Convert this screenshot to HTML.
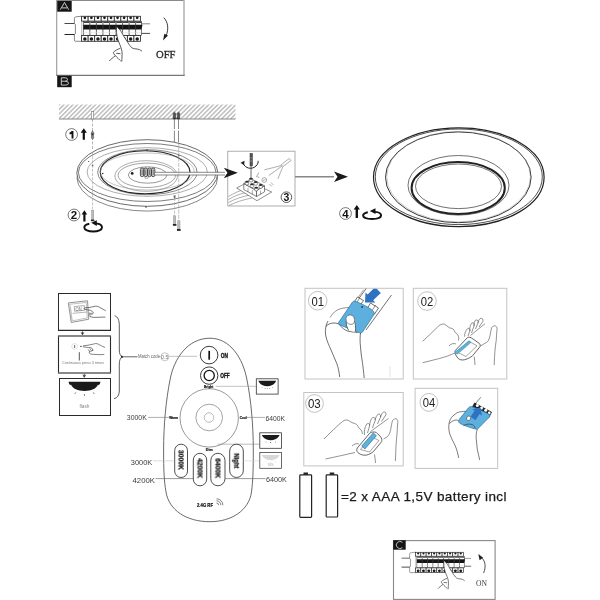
<!DOCTYPE html>
<html><head><meta charset="utf-8">
<style>
html,body{margin:0;padding:0;background:#fff;width:600px;height:600px;overflow:hidden}
svg{display:block}
text{filter:url(#gs)}
text{font-family:"Liberation Sans",sans-serif}
.serif{font-family:"Liberation Serif",serif}
</style></head><body>
<svg width="600" height="600" viewBox="0 0 600 600">
<defs>
<filter id="gs" x="-10%" y="-10%" width="120%" height="120%"><feColorMatrix type="saturate" values="0"/></filter>
<pattern id="hatch" patternUnits="userSpaceOnUse" width="3.2" height="5" patternTransform="rotate(45)">
<line x1="0.8" y1="0" x2="0.8" y2="5" stroke="#777" stroke-width="0.8"/>
</pattern>
<g id="breaker">
 <line x1="64.5" y1="23.5" x2="75" y2="23.5" stroke="#333" stroke-width="0.9"/>
 <line x1="64.5" y1="34.5" x2="75" y2="34.5" stroke="#222" stroke-width="1"/>
 <line x1="140" y1="23.8" x2="150" y2="23.8" stroke="#666" stroke-width="0.8"/>
 <line x1="140" y1="33.4" x2="150" y2="33.4" stroke="#333" stroke-width="0.9"/>
 <path d="M81.8,16.2 L75.6,16.9 Q74.4,17.1 74.4,18.5 L74.4,23.8 L75.4,24.5 L75.4,33.8 L74.4,34.6 L74.4,40.2 Q74.4,41.3 75.8,41.3 L81.8,41.3 Z" fill="#fff" stroke="#555" stroke-width="0.7"/>
 <rect x="81.6" y="21.1" width="59" height="14.4" fill="#f4f4f4" stroke="none"/>
 <rect x="83.3" y="21.3" width="58.2" height="14" fill="#fff" stroke="#444" stroke-width="0.7"/>
 <g fill="#fff" stroke="#2a2a2a" stroke-width="0.85"><rect x="81.60" y="16.3" width="6.54" height="4.8"/><rect x="81.60" y="35.5" width="6.54" height="5.8"/><rect x="88.14" y="16.3" width="6.54" height="4.8"/><rect x="88.14" y="35.5" width="6.54" height="5.8"/><rect x="94.68" y="16.3" width="6.54" height="4.8"/><rect x="94.68" y="35.5" width="6.54" height="5.8"/><rect x="101.22" y="16.3" width="6.54" height="4.8"/><rect x="101.22" y="35.5" width="6.54" height="5.8"/><rect x="107.76" y="16.3" width="6.54" height="4.8"/><rect x="107.76" y="35.5" width="6.54" height="5.8"/><rect x="114.30" y="16.3" width="6.54" height="4.8"/><rect x="114.30" y="35.5" width="6.54" height="5.8"/><rect x="120.84" y="16.3" width="6.54" height="4.8"/><rect x="120.84" y="35.5" width="6.54" height="5.8"/><rect x="127.38" y="16.3" width="6.54" height="4.8"/><rect x="127.38" y="35.5" width="6.54" height="5.8"/><rect x="133.92" y="16.3" width="6.54" height="4.8"/><rect x="133.92" y="35.5" width="6.54" height="5.8"/></g>
 <g fill="#1a1a1a"><circle cx="84.87" cy="17.8" r="1.35"/><circle cx="84.87" cy="39.1" r="1.75"/><circle cx="91.41" cy="17.8" r="1.35"/><circle cx="91.41" cy="39.1" r="1.75"/><circle cx="97.95" cy="17.8" r="1.35"/><circle cx="97.95" cy="39.1" r="1.75"/><circle cx="104.49" cy="17.8" r="1.35"/><circle cx="104.49" cy="39.1" r="1.75"/><circle cx="111.03" cy="17.8" r="1.35"/><circle cx="111.03" cy="39.1" r="1.75"/><circle cx="117.57" cy="17.8" r="1.35"/><circle cx="117.57" cy="39.1" r="1.75"/><circle cx="124.11" cy="17.8" r="1.35"/><circle cx="124.11" cy="39.1" r="1.75"/><circle cx="130.65" cy="17.8" r="1.35"/><circle cx="130.65" cy="39.1" r="1.75"/><circle cx="137.19" cy="17.8" r="1.35"/><circle cx="137.19" cy="39.1" r="1.75"/></g>
 <g stroke="#2a2a2a" stroke-width="0.9"><line x1="83.80" y1="22.5" x2="89.34" y2="22.5"/><line x1="90.34" y1="22.5" x2="95.88" y2="22.5"/><line x1="96.88" y1="22.5" x2="102.42" y2="22.5"/><line x1="103.42" y1="22.5" x2="108.96" y2="22.5"/><line x1="109.96" y1="22.5" x2="115.50" y2="22.5"/><line x1="116.50" y1="22.5" x2="122.04" y2="22.5"/><line x1="123.04" y1="22.5" x2="128.58" y2="22.5"/><line x1="129.58" y1="22.5" x2="135.12" y2="22.5"/><line x1="136.12" y1="22.5" x2="141.66" y2="22.5"/></g>
 <g stroke="#444" stroke-width="0.8"><line x1="89.84" y1="21.3" x2="89.84" y2="35.3"/><line x1="96.38" y1="21.3" x2="96.38" y2="35.3"/><line x1="102.92" y1="21.3" x2="102.92" y2="35.3"/><line x1="109.46" y1="21.3" x2="109.46" y2="35.3"/><line x1="116.00" y1="21.3" x2="116.00" y2="35.3"/><line x1="122.54" y1="21.3" x2="122.54" y2="35.3"/><line x1="129.08" y1="21.3" x2="129.08" y2="35.3"/><line x1="135.62" y1="21.3" x2="135.62" y2="35.3"/></g>
 <path d="M83.3,24.8 L142.6,24.8 L141.3,29.6 L83.3,29.6 Z" fill="#151515"/>
 <g stroke="#555" stroke-width="0.6"><line x1="89.84" y1="25.2" x2="89.84" y2="29.2"/><line x1="96.38" y1="25.2" x2="96.38" y2="29.2"/><line x1="102.92" y1="25.2" x2="102.92" y2="29.2"/><line x1="109.46" y1="25.2" x2="109.46" y2="29.2"/><line x1="116.00" y1="25.2" x2="116.00" y2="29.2"/><line x1="122.54" y1="25.2" x2="122.54" y2="29.2"/><line x1="129.08" y1="25.2" x2="129.08" y2="29.2"/><line x1="135.62" y1="25.2" x2="135.62" y2="29.2"/></g>
 <line x1="83.3" y1="32.6" x2="141" y2="32.6" stroke="#ddd" stroke-width="0.5"/>
</g>
<g id="hand">
<path d="M116.7,27 L116.3,32.5 L118,40 L120.4,46.7 L122,51.7 L121.8,61.7 L140,62 L142,51.2 L138.3,49.2 L134,48.7 L130.8,46.7 L127.5,41.7 L124,36.7 L121.7,31.7 L118,28 Z" fill="#fff" stroke="none"/>
<path d="M116.7,27 C116,30 116.5,35 118,40 C119.5,44 121.5,48 122,51.7 C122.3,55 121.8,59 121.8,61.7" fill="none" stroke="#333" stroke-width="0.8"/>
<path d="M118,28 C120,29 122,33 124,36.7 C126,39.5 128.5,44 130.8,46.7 C132,48.3 134,48.8 136,48.9 C138.5,49 140.5,50 142,51.2" fill="none" stroke="#333" stroke-width="0.8"/>
<path d="M120.4,48.3 C118,49 115,50.5 113.3,52.5 C113.5,54 116,56.5 118,58.3 C119,59.5 120.3,60.5 120.8,61" fill="none" stroke="#333" stroke-width="0.8"/>
<path d="M116.2,53.3 L120.4,53.7 M115.4,55.8 C113,57.5 110.5,59.5 109.2,61" fill="none" stroke="#333" stroke-width="0.8"/>
</g>
</defs>

<!-- ============ A ============ -->
<path d="M56.7,0.5 L184,0.5" stroke="#888" stroke-width="1.1" fill="none"/>
<path d="M184,0 L184,75.4" stroke="#b0b0b0" stroke-width="1.5" fill="none"/>
<path d="M56.7,0 L56.7,75.4" stroke="#999" stroke-width="1.1" fill="none"/>
<path d="M56.2,75.4 L184.7,75.4" stroke="#777" stroke-width="1.2" fill="none"/>
<rect x="57.2" y="1" width="14.5" height="10.7" fill="#151515"/>
<path d="M60.3,9.7 L64.5,2.5 L68.7,9.7 M62,7.9 L67,7.9" fill="none" stroke="#ddd" stroke-width="0.9"/>
<use href="#breaker"/>
<use href="#hand"/>
<!-- curved arrow OFF -->
<path d="M163.8,17.6 C168,22 169,29 166,36" fill="none" stroke="#222" stroke-width="0.9"/>
<path d="M163,40.5 L164.3,33.8 L168,35.6 Z" fill="#222"/>
<text x="156" y="58" font-size="10.6" fill="#2a2a2a" stroke="#2a2a2a" stroke-width="0.3" class="serif" style="font-family:'Liberation Serif',serif">OFF</text>

<!-- ============ B ============ -->
<rect x="57.2" y="75.7" width="14.5" height="11.5" fill="#151515"/>
<path d="M61.3,85.1 L61.3,77.8 L65.3,77.8 Q67.5,77.8 67.5,79.5 Q67.5,81.2 65.3,81.2 L61.3,81.2 M65.3,81.2 Q68.5,81.2 68.5,83.2 Q68.5,85.1 65.3,85.1 L61.3,85.1" fill="none" stroke="#ddd" stroke-width="0.9"/>

<!-- ceiling -->
<rect x="59" y="104.5" width="176.5" height="14.5" fill="url(#hatch)"/>
<line x1="59" y1="119" x2="235.5" y2="119" stroke="#888" stroke-width="1"/>

<!-- anchor left -->
<rect x="91.3" y="111.5" width="2.4" height="7.5" fill="#fff" stroke="#777" stroke-width="0.6"/>
<line x1="92.5" y1="119" x2="92.5" y2="150" stroke="#888" stroke-width="0.6" stroke-dasharray="3,1.5"/>
<path d="M92.5,130.7 L91.1,133.2 L91.5,135 L91.3,138 L92.5,139.5 L93.7,138 L93.5,135 L93.9,133.2 Z" fill="#888" stroke="#444" stroke-width="0.5"/>
<path d="M91.4,133.5 L93.6,133.5 L93.3,135.2 L91.7,135.2 Z" fill="#333"/>
<!-- circle 1 + arrow -->
<circle cx="71.6" cy="134.5" r="5.9" fill="#fff" stroke="#555" stroke-width="0.8"/>
<path d="M72.5,130.9 L72.5,138.6 M72.6,131.4 C71.8,132.6 70.8,133.3 69.6,133.7" fill="none" stroke="#111" stroke-width="1.9"/>
<path d="M83.8,128.2 L80.7,132.8 L82.7,132.8 L82.7,139.8 L84.9,139.8 L84.9,132.8 L86.9,132.8 Z" fill="#111"/>

<!-- anchors right -->
<path d="M173.2,119 L173.2,113.2 Q174.4,111.2 175.6,113.2 L175.6,119 Z" fill="#555" stroke="#333" stroke-width="0.5"/>
<path d="M177.3,119 L177.3,113.2 Q178.5,111.2 179.7,113.2 L179.7,119 Z" fill="#555" stroke="#333" stroke-width="0.5"/>
<line x1="173.5" y1="118.3" x2="179.5" y2="118.3" stroke="#222" stroke-width="0.8"/>
<line x1="174.4" y1="119" x2="174.4" y2="142" stroke="#555" stroke-width="0.7" stroke-dasharray="10,1.5,30"/>
<line x1="178.5" y1="119" x2="178.5" y2="142" stroke="#555" stroke-width="0.7" stroke-dasharray="10,1.5,30"/>

<!-- lamp 1 -->
<g fill="none" stroke="#444" stroke-width="0.7">
 <ellipse cx="147.3" cy="177.8" rx="70.3" ry="33.3" stroke="#555"/>
 <ellipse cx="147.3" cy="173" rx="70.5" ry="33.3" fill="#fff" stroke="#444" stroke-width="0.8"/>
 <ellipse cx="147.2" cy="172.5" rx="68.8" ry="29" stroke="#444" stroke-width="0.7"/>
 <ellipse cx="147.2" cy="172" rx="60.1" ry="24.3" stroke="#777" stroke-width="0.6"/>
 <ellipse cx="147.4" cy="172.2" rx="49.7" ry="22.5" stroke="#555" stroke-width="0.7"/>
 <ellipse cx="145.1" cy="172.2" rx="44.9" ry="21.5" stroke="#222" stroke-width="1.1"/>
 <ellipse cx="147.3" cy="171.5" rx="47" ry="18.5" stroke="#888" stroke-width="0.5"/>
 <ellipse cx="146.2" cy="176" rx="31.3" ry="15.3" stroke="#777" stroke-width="0.6"/>
 <ellipse cx="146.8" cy="175.3" rx="28.7" ry="12.2" stroke="#666" stroke-width="0.6"/>
 <ellipse cx="147.6" cy="175" rx="19.3" ry="8.2" stroke="#555" stroke-width="0.6"/>
</g>
<!-- connector in lamp center -->
<g fill="#d0d0d0" stroke="#222" stroke-width="0.75">
 <rect x="140.4" y="168" width="3.4" height="8.6" rx="1.5"/>
 <rect x="144.1" y="168" width="3.4" height="8.6" rx="1.5"/>
 <rect x="147.8" y="168" width="3.4" height="8.6" rx="1.5"/>
 <rect x="151.5" y="168" width="3.4" height="8.6" rx="1.5"/>
</g>
<g stroke="#333" stroke-width="0.6">
 <line x1="142.1" y1="169.5" x2="142.1" y2="175"/><line x1="145.8" y1="169.5" x2="145.8" y2="175"/>
 <line x1="149.5" y1="169.5" x2="149.5" y2="175"/><line x1="153.2" y1="169.5" x2="153.2" y2="175"/>
</g>
<path d="M145,176.6 L145,178.3 L148,178.3 L148,176.6" fill="none" stroke="#666" stroke-width="0.5"/>
<circle cx="132.2" cy="173.4" r="1.4" fill="#222"/>
<!-- dots on lamp -->
<circle cx="147" cy="150" r="0.8" fill="#333"/>
<circle cx="102.7" cy="173.5" r="0.8" fill="#333"/>
<circle cx="88.7" cy="161.5" r="0.6" fill="#333"/>
<circle cx="146" cy="207" r="0.8" fill="#333"/>
<!-- arrow from lamp to box 3 -->
<rect x="155" y="172.3" width="70" height="2.7" fill="#fff"/>
<path d="M155,172.3 L225,172.3 M155,175 L225,175" stroke="#555" stroke-width="0.7"/>
<!-- dashed line & screws -->
<line x1="92.6" y1="152" x2="92.6" y2="210.3" stroke="#999" stroke-width="0.6" stroke-dasharray="3,1.2"/>
<rect x="91.5" y="210.3" width="2.3" height="9.7" fill="#bbb" stroke="#888" stroke-width="0.4"/>
<rect x="90.9" y="219.6" width="3.4" height="1.6" fill="#222"/>
<line x1="178.75" y1="142" x2="178.75" y2="220.8" stroke="#999" stroke-width="0.6" stroke-dasharray="4,1.2"/>
<line x1="174.6" y1="198" x2="174.6" y2="215.8" stroke="#999" stroke-width="0.6" stroke-dasharray="3,1.2"/>
<path d="M173.4,195.6 L175.8,195.6 L175.2,198.2 L174,198.2 Z" fill="#666"/>
<rect x="173.4" y="215.8" width="2.4" height="8.4" fill="#bbb" stroke="#888" stroke-width="0.4"/>
<rect x="172.9" y="224" width="3.5" height="1.8" fill="#222"/>
<rect x="177.6" y="220.8" width="2.4" height="8.4" fill="#bbb" stroke="#888" stroke-width="0.4"/>
<rect x="177" y="229" width="3.6" height="1.9" fill="#222"/>
<circle cx="92.6" cy="165.5" r="0.9" fill="#777"/>
<circle cx="178.75" cy="155.5" r="0.9" fill="#777"/>

<!-- circle 2 + arrow + rotate -->
<circle cx="74" cy="215" r="5.9" fill="#fff" stroke="#555" stroke-width="0.8"/>
<text x="74" y="219.3" font-size="11.5" fill="#111" text-anchor="middle" font-weight="bold">2</text>
<path d="M84.4,210.3 L81.6,214.5 L83.3,214.5 L83.3,221.5 L85.5,221.5 L85.5,214.5 L87.2,214.5 Z" fill="#111"/>
<path d="M89.3,223.7 C86,224.3 84.3,225.8 84.3,227.5 C84.3,229.8 88.3,231.5 93.2,231.5 C98.2,231.5 102,229.8 102,227.5 C102,225.2 99,223.7 96,223.4" fill="none" stroke="#111" stroke-width="1.9"/>
<path d="M91.2,222.8 L96.8,220.2 L96.8,226 Z" fill="#111"/>

<!-- box 3 -->
<rect x="227.8" y="151.2" width="67.2" height="54.8" fill="#fff" stroke="#999" stroke-width="0.8"/>
<line x1="295" y1="176.7" x2="334" y2="176.7" stroke="#888" stroke-width="1.6"/>
<path d="M348,176.7 L334,171.5 L337.5,176.7 L334,182 Z" fill="#1a1a1a"/>
<circle cx="286.4" cy="197.2" r="5.3" fill="#fff" stroke="#333" stroke-width="0.8"/>
<text x="286.4" y="201" font-size="10.5" fill="#111" text-anchor="middle" font-weight="bold">3</text>
<!-- box 3 contents -->
<g fill="none" stroke="#777" stroke-width="0.6">
 <path d="M228.5,196.5 C234,193 240,190.5 246,189"/>
 <path d="M228.5,199.5 C234,196 241,193.5 248,192"/>
 <path d="M228.5,202.5 C235,199 242,196.5 250,195"/>
 <path d="M229,205.5 C236,202 244,199.5 252,198"/>
</g>
<path d="M236.7,188 L249,181.5 L271.7,192 L257,200.7 Z" fill="#fff" stroke="#444" stroke-width="0.6"/>
<g fill="#fff" stroke="#333" stroke-width="0.6">
 <path d="M243.8,183.5 L243.8,189.5 L256.5,196.5 L256.5,190.5 Z"/>
 <path d="M256.5,190.5 L256.5,196.5 L264.5,191.8 L264.5,185.8 Z"/>
 <path d="M243.8,183.5 L251.5,179 L264.5,185.8 L256.5,190.5 Z"/>
</g>
<g stroke="#555" stroke-width="0.5">
 <line x1="248" y1="187.8" x2="248" y2="192"/><line x1="252.3" y1="190.2" x2="252.3" y2="194.3"/>
 <line x1="260.5" y1="190.6" x2="260.5" y2="194.5"/>
</g>
<g fill="#fff" stroke="#333" stroke-width="0.5">
 <path d="M249.3,178.7 L249.3,181 A1.7,1 0 0 0 252.7,181 L252.7,178.7"/>
 <path d="M245.3,181.7 L245.3,184 A1.7,1 0 0 0 248.7,184 L248.7,181.7"/>
 <path d="M254,182 L254,184.3 A1.7,1 0 0 0 257.4,184.3 L257.4,182"/>
 <path d="M250.3,184.3 L250.3,186.6 A1.7,1 0 0 0 253.7,186.6 L253.7,184.3"/>
 <path d="M259,185 L259,187.3 A1.7,1 0 0 0 262.4,187.3 L262.4,185"/>
 <path d="M254.6,187.7 L254.6,190 A1.7,1 0 0 0 258,190 L258,187.7"/>
</g>
<g fill="#2a2a2a">
 <ellipse cx="251" cy="178.7" rx="1.8" ry="1"/>
 <ellipse cx="247" cy="181.7" rx="1.8" ry="1"/>
 <ellipse cx="255.7" cy="182" rx="1.8" ry="1"/>
 <ellipse cx="252" cy="184.3" rx="1.8" ry="1"/>
 <ellipse cx="260.7" cy="185" rx="1.8" ry="1"/>
 <ellipse cx="256.3" cy="187.7" rx="1.8" ry="1"/>
</g>
<rect x="250" y="153.4" width="2.5" height="12.5" fill="#555" stroke="#333" stroke-width="0.5"/>
<line x1="250.2" y1="158" x2="252.3" y2="158" stroke="#ccc" stroke-width="0.5"/>
<line x1="250.2" y1="161" x2="252.3" y2="161" stroke="#ccc" stroke-width="0.5"/>
<line x1="251" y1="165.9" x2="251" y2="178" stroke="#444" stroke-width="0.8"/>
<path d="M243,163.2 C245,168.5 252,170 256,166 C258,164 258.5,162 258,160.8" fill="none" stroke="#222" stroke-width="1"/>
<path d="M240.5,162.8 L244.5,160.8 L244.2,165.2 Z" fill="#222"/>
<g fill="none" stroke="#777" stroke-width="0.6">
 <path d="M289.2,158.5 L291,160.5 L283,166.5 L281.3,164.7 Z" fill="#fff"/>
 <path d="M281.5,165.5 C276,167 270,168.5 264.3,169.8"/>
 <path d="M282,166 C278,169 273,172.5 268.8,175.5"/>
 <path d="M283,166.5 C281,170.5 279.5,175 277.9,178.9"/>
 <path d="M259,172.5 L256.5,176.5 L259.5,177.5"/>
 <circle cx="264.3" cy="180" r="2.4"/>
 <path d="M263,180.5 L265.6,179.5"/>
 <path d="M269.5,184 L272,186.5 M271,182.5 L273.5,185"/>
</g>
<path d="M237.8,172.7 L223.8,167.7 L227.5,172.7 L223.8,178.2 Z" fill="#1a1a1a"/>
<!-- big lamp -->
<g fill="none" stroke="#222">
 <ellipse cx="458.8" cy="177.2" rx="85.3" ry="49.4" stroke-width="1.2"/>
 <ellipse cx="458.8" cy="176.8" rx="83.5" ry="47.8" stroke-width="0.8"/>
 <ellipse cx="458.3" cy="177.3" rx="72.8" ry="45.4" stroke-width="1" stroke="#333"/>
 <ellipse cx="458.6" cy="176.6" rx="71.8" ry="45.2" stroke-width="0.4" stroke="#888"/>
 <ellipse cx="458.5" cy="185.3" rx="50.5" ry="29.8" stroke-width="0.7" stroke="#333"/>
 <ellipse cx="458.2" cy="188" rx="46.6" ry="26" stroke-width="2"/>
 <ellipse cx="458.5" cy="186.3" rx="43" ry="22.3" stroke-width="0.7" stroke="#333"/>
</g>
<!-- 4 + arrow + rotate -->
<circle cx="345.5" cy="213.5" r="5.9" fill="#fff" stroke="#555" stroke-width="0.8"/>
<text x="345.5" y="217.8" font-size="11.5" fill="#111" text-anchor="middle" font-weight="bold">4</text>
<path d="M356.8,205 L353.7,209.6 L355.6,209.6 L355.6,218 L358,218 L358,209.6 L359.9,209.6 Z" fill="#111"/>
<path d="M367.8,212.2 C364.8,212.8 363.1,214 363.1,215.6 C363.1,217.6 367,219 372.1,219 C377.2,219 381.1,217.6 381.1,215.6 C381.1,213.4 378,212.1 375,211.9" fill="none" stroke="#111" stroke-width="1.9"/>
<path d="M369.8,210.9 L375.5,208.3 L375.5,214 Z" fill="#111"/>

<!-- ============ lower left boxes ============ -->
<rect x="58.5" y="293.5" width="52" height="37" fill="#fff" stroke="#2a2a2a" stroke-width="1"/>
<rect x="58.5" y="336" width="52" height="37" fill="#fff" stroke="#2a2a2a" stroke-width="1.1"/>
<rect x="59.5" y="378.5" width="51" height="37" fill="#fff" stroke="#2a2a2a" stroke-width="1"/>
<line x1="58.5" y1="330.4" x2="110.5" y2="330.4" stroke="#2a2a2a" stroke-width="1.1"/>
<line x1="58.5" y1="335.9" x2="110.5" y2="335.9" stroke="#888" stroke-width="1.7"/>
<line x1="58.5" y1="372.9" x2="110.5" y2="372.9" stroke="#888" stroke-width="1.6"/>
<path d="M82.5,331.5 L82.5,334 M81.2,332.3 L82.5,334.8 L83.8,332.3" stroke="#222" stroke-width="0.8" fill="none"/>
<path d="M84.3,374 L84.3,376.5 M83,374.8 L84.3,377.3 L85.6,374.8" stroke="#222" stroke-width="0.8" fill="none"/>
<!-- box1 switch + hand -->
<g fill="none" stroke-linejoin="round">
 <path d="M68.3,302.9 L87.5,300.8 L88.75,319.2 L71.25,322.5 Z" stroke="#666" stroke-width="0.7"/>
 <path d="M69.7,304.3 L86.2,302.4 L87.3,317.9 L72.3,320.9 Z" stroke="#999" stroke-width="0.6"/>
 <path d="M74.3,306.5 L84.3,305.6 L84.6,310.3 L74.6,311.2 Z" stroke="#777" stroke-width="0.6"/>
 <path d="M72.6,313.3 L87.5,312" stroke="#888" stroke-width="0.6"/>
 <path d="M70.6,306 L71.8,320.5" stroke="#bbb" stroke-width="0.6"/>
</g>
<text x="75.6" y="310.5" font-size="4.6" fill="#666" transform="rotate(-5 79 308.5)" textLength="6" lengthAdjust="spacingAndGlyphs">ON</text>
<path d="M83.7,308.9 L84.6,307.9 L89.2,307.5 L95.8,306.2 C97,306.1 98.2,306.5 99.2,307.1 C101.3,308.3 103.5,309.6 105.8,310.8" fill="none" stroke="#333" stroke-width="0.65"/>
<path d="M84.5,309.4 L88.3,310 L90.8,310.4 L93.3,312.4 L92.5,314.2 L90,313.8 M89.6,312.6 L90,316.6 L93.3,317.4 L105.4,317.1" fill="none" stroke="#333" stroke-width="0.65"/>
<path d="M90.8,313 L92,313.3" stroke="#555" stroke-width="0.5"/>
<!-- box2 -->
<circle cx="74.6" cy="346.4" r="2.9" fill="none" stroke="#b5c9d0" stroke-width="0.5"/>
<line x1="74.6" y1="345" x2="74.6" y2="348" stroke="#777" stroke-width="1.1"/>
<rect x="80.2" y="345.9" width="1.4" height="1.1" fill="#444"/>
<g fill="none" stroke="#333" stroke-width="0.6">
 <path d="M82.8,345.9 L88,345.2 L93,344.2 C95,343.5 96.5,343.3 98,344 C100,345 102.5,346.5 105,347.5"/>
 <path d="M83,346.8 L88.5,347.5 L90.6,347.5 L92.2,348.5 L92.8,350 L91.5,351 L89.5,351.3"/>
 <path d="M88.2,349.5 L89.5,351.3 L89.2,353 L91,354.2 L100,354.7 L104.3,354.4"/>
 <path d="M90,348.3 L90.5,349.8 M91.5,350.8 L93.5,350.2"/>
</g>
<line x1="79.3" y1="352.2" x2="79.3" y2="360.5" stroke="#444" stroke-width="0.9"/>
<text x="62" y="364.4" font-size="4" fill="#777" textLength="41.8" lengthAdjust="spacingAndGlyphs">Continuous press 3 times</text>
<!-- box3 lamp -->
<path d="M68.5,381.8 L100.5,381.8 L99.8,384 L98.7,385.2 L98,384.6 C96.5,389 91,391 84.6,391 C78,391 72.5,389 71,384.6 L70.3,385.2 L69.2,384 Z" fill="#1a1a1a"/>
<g stroke="#333" stroke-width="0.6">
 <line x1="74.5" y1="393.6" x2="76.2" y2="392.6"/>
 <line x1="84.4" y1="394" x2="84.4" y2="396"/>
 <line x1="92.9" y1="392.6" x2="94.6" y2="393.6"/>
</g>
<text x="79.5" y="407.6" font-size="4.8" fill="#888" textLength="10" lengthAdjust="spacingAndGlyphs">flash</text>
<!-- brace -->
<path d="M114.7,315.7 C118,317 119.3,320 119.3,326 L119.3,350 C119.3,354 120.5,356 122.5,356.8 C120.5,357.6 119.3,360 119.3,364 L119.3,391 C119.3,395 117.5,398 114,398.7" fill="none" stroke="#333" stroke-width="0.8"/>
<circle cx="122" cy="356.8" r="1.1" fill="#222"/>
<line x1="122" y1="356.8" x2="137.5" y2="356.8" stroke="#555" stroke-width="0.9"/>
<text x="138" y="358.4" font-size="4.6" fill="#666" textLength="22" lengthAdjust="spacingAndGlyphs">Match code</text>
<circle cx="164.8" cy="356.8" r="4" fill="#fff" stroke="#888" stroke-width="0.5"/>
<text x="164.7" y="358.6" font-size="5.2" fill="#777" text-anchor="middle">0.5</text>

<!-- ============ remote ============ -->
<path d="M210,338.2 C230,338.2 243,358 247,380 C251,400 253.3,425 253.3,450 C253.3,470 253,480 251.5,492 C249,510 232,521.7 210,521.7 C186,521.7 169,510 166,492 C164,480 163.6,470 163.6,450 C163.6,425 166,400 170,380 C174,358 188,338.2 210,338.2 Z" fill="#fff" stroke="#444" stroke-width="0.8"/>
<line x1="169" y1="356.3" x2="197" y2="356.3" stroke="#999" stroke-width="0.6"/>
<circle cx="209.1" cy="355.1" r="8.8" fill="#fff" stroke="#222" stroke-width="0.9"/>
<line x1="209.2" y1="350.8" x2="209.2" y2="359.7" stroke="#111" stroke-width="1.7"/>
<text x="220.8" y="357.8" font-size="7" font-weight="bold" fill="#111" stroke="#111" stroke-width="0.35" textLength="7.2" lengthAdjust="spacingAndGlyphs">ON</text>
<circle cx="209.2" cy="375.6" r="8.7" fill="#fff" stroke="#222" stroke-width="0.9"/>
<circle cx="209.2" cy="375.5" r="5.1" fill="none" stroke="#111" stroke-width="1.3"/>
<text x="220.3" y="378" font-size="7" font-weight="bold" fill="#111" stroke="#111" stroke-width="0.35" textLength="9.4" lengthAdjust="spacingAndGlyphs">OFF</text>
<text x="204" y="387.6" font-size="3.6" font-weight="bold" fill="#111" stroke="#111" stroke-width="0.2" textLength="9.3" lengthAdjust="spacingAndGlyphs">Bright</text>
<line x1="215.8" y1="386.3" x2="256.3" y2="386.3" stroke="#999" stroke-width="0.6"/>
<!-- wheel -->
<circle cx="209.2" cy="417.9" r="29.2" fill="none" stroke="#555" stroke-width="0.6"/>
<circle cx="209.2" cy="417.5" r="13.3" fill="none" stroke="#666" stroke-width="0.6"/>
<circle cx="209" cy="417.5" r="4.75" fill="none" stroke="#777" stroke-width="0.5"/>
<text x="169.2" y="418.9" font-size="3.6" font-weight="bold" fill="#111" stroke="#111" stroke-width="0.2" textLength="8.8" lengthAdjust="spacingAndGlyphs">Warm</text>
<text x="239.7" y="418.9" font-size="3.6" font-weight="bold" fill="#111" stroke="#111" stroke-width="0.2" textLength="7" lengthAdjust="spacingAndGlyphs">Cool</text>
<text x="209.2" y="451" font-size="3.6" font-weight="bold" fill="#111" stroke="#111" stroke-width="0.2" text-anchor="middle">Dim</text>
<line x1="148" y1="417.4" x2="169" y2="417.4" stroke="#777" stroke-width="0.6"/>
<line x1="246.8" y1="417.4" x2="265" y2="417.4" stroke="#777" stroke-width="0.6"/>
<line x1="217.7" y1="444.2" x2="259.8" y2="444.2" stroke="#777" stroke-width="0.5"/>
<!-- buttons -->
<g fill="#fff" stroke="#222" stroke-width="0.8">
 <rect x="174.7" y="444.2" width="12.8" height="33.3" rx="6.4"/>
 <rect x="193.3" y="453.3" width="13.4" height="32.5" rx="6.7"/>
 <rect x="210.8" y="453.3" width="14.2" height="32.5" rx="7.1"/>
 <rect x="229.7" y="444.2" width="13.6" height="33.3" rx="6.8"/>
</g>
<g font-size="7" font-weight="bold" fill="#111" stroke="#111" stroke-width="0.25">
 <text transform="translate(178.6,460) rotate(90)" text-anchor="middle" textLength="20" lengthAdjust="spacingAndGlyphs">3000K</text>
 <text transform="translate(197.6,468.3) rotate(90)" text-anchor="middle" textLength="20" lengthAdjust="spacingAndGlyphs">4200K</text>
 <text transform="translate(215.5,468.3) rotate(90)" text-anchor="middle" textLength="20" lengthAdjust="spacingAndGlyphs">6400K</text>
 <text transform="translate(234.2,460.8) rotate(90)" text-anchor="middle" textLength="15" lengthAdjust="spacingAndGlyphs">Night</text>
</g>
<text x="197" y="507.3" font-size="4.6" font-weight="bold" fill="#111" stroke="#111" stroke-width="0.2" textLength="16" lengthAdjust="spacingAndGlyphs">2.4G RF</text>
<g fill="none" stroke="#333" stroke-width="0.6">
 <path d="M216.5,503 A2.2,2.2 0 0 1 218.7,505.2"/>
 <path d="M216.5,500.8 A4.4,4.4 0 0 1 220.9,505.2"/>
 <path d="M216.5,498.8 A6.4,6.4 0 0 1 222.9,505.2"/>
</g>
<!-- labels left/right -->
<g font-size="7.6" fill="#3a3a3a">
 <text x="126.8" y="420.2" textLength="20" lengthAdjust="spacingAndGlyphs">3000K</text>
 <text x="130.8" y="465" textLength="21.5" lengthAdjust="spacingAndGlyphs">3000K</text>
 <text x="132.5" y="483.3" textLength="22.5" lengthAdjust="spacingAndGlyphs">4200K</text>
 <text x="265.4" y="420.8" textLength="19.5" lengthAdjust="spacingAndGlyphs">6400K</text>
 <text x="265.9" y="482.3" textLength="21" lengthAdjust="spacingAndGlyphs">6400K</text>
</g>
<line x1="153" y1="460.8" x2="174.7" y2="460.8" stroke="#bbb" stroke-width="0.5"/>
<line x1="155.5" y1="478.6" x2="193.3" y2="478.6" stroke="#555" stroke-width="0.6"/>
<line x1="225" y1="478.6" x2="265.5" y2="478.6" stroke="#555" stroke-width="0.6"/>
<line x1="243.3" y1="460.8" x2="259.8" y2="460.8" stroke="#ccc" stroke-width="0.5"/>
<!-- icon boxes -->
<rect x="256.3" y="378.8" width="21.8" height="15.3" fill="#fff" stroke="#333" stroke-width="0.8"/>
<path d="M258.3,380.8 L276.2,380.8 L275.2,382.5 C273.5,385 270.5,386.2 267.2,386.2 C264,386.2 261,385 259.3,382.5 Z" fill="#1a1a1a"/>
<g fill="#444"><circle cx="262" cy="387.6" r="0.45"/><circle cx="265" cy="388.3" r="0.45"/><circle cx="267.2" cy="388.5" r="0.45"/><circle cx="269.5" cy="388.3" r="0.45"/><circle cx="272.5" cy="387.6" r="0.45"/></g>
<rect x="259.8" y="432.8" width="21.8" height="15.5" fill="#fff" stroke="#333" stroke-width="0.8"/>
<path d="M261.8,435 L279.6,435 L278.6,436.8 C277,439 274,440.3 270.7,440.3 C267.5,440.3 264.5,439 262.8,436.8 Z" fill="#1a1a1a"/>
<g fill="#444"><circle cx="266" cy="442" r="0.45"/><circle cx="270.7" cy="442.6" r="0.5"/><circle cx="275.4" cy="442" r="0.45"/></g>
<rect x="259.8" y="452.5" width="21.8" height="15.8" fill="#fff" stroke="#444" stroke-width="0.8"/>
<path d="M261.8,455 L279.6,455 L278.6,456.8 C277,459 274,460.3 270.7,460.3 C267.5,460.3 264.5,459 262.8,456.8 Z" fill="#d8d8d8"/>
<g fill="#bbb"><circle cx="266" cy="461.8" r="0.4"/><circle cx="270.7" cy="462.3" r="0.4"/><circle cx="275.4" cy="461.8" r="0.4"/></g>
<text x="270.7" y="466.3" font-size="3" fill="#999" text-anchor="middle">10%</text>

<!-- ============ battery panels ============ -->
<g fill="#fff" stroke="#c4c4c4" stroke-width="1">
 <rect x="305" y="288.3" width="98.2" height="90.7"/>
 <rect x="413.3" y="288.3" width="93.5" height="90.7"/>
 <rect x="303.8" y="392.5" width="99.4" height="73.4"/>
 <rect x="415.1" y="388.3" width="82.6" height="80.1"/>
</g>
<g fill="#fff" stroke="#999" stroke-width="0.6">
 <circle cx="317.7" cy="300.7" r="9.3"/>
 <circle cx="427" cy="301" r="9.3"/>
 <circle cx="314.5" cy="403.5" r="8.9"/>
 <circle cx="428.9" cy="402.4" r="8.9"/>
</g>
<g font-size="12.6" fill="#222" text-anchor="middle">
 <text x="317.8" y="305.5" textLength="12.5" lengthAdjust="spacingAndGlyphs">01</text>
 <text x="427" y="305.5" textLength="12.5" lengthAdjust="spacingAndGlyphs">02</text>
 <text x="314.3" y="407.8" textLength="12.8" lengthAdjust="spacingAndGlyphs">03</text>
 <text x="428.9" y="406.6" textLength="12.5" lengthAdjust="spacingAndGlyphs">04</text>
</g>
<!-- panel 01 content -->
<g fill="none" stroke="#333" stroke-width="0.7">
 <path d="M366.2,288.6 L354,305"/>
 <path d="M363.8,289.5 L358,297.5" stroke="#555" stroke-width="0.5"/>
 <path d="M391.5,295 L366,330"/>
 <path d="M357.5,297 L363.5,300.5 L360.5,305 L354.5,301.5 Z" fill="#fff" stroke="#333" stroke-width="0.7"/>
 <path d="M370.5,303 L378.5,308 L374.5,314 L366.8,309.2 Z" fill="#fff" stroke="#333" stroke-width="0.7"/>
 <path d="M375.5,305 L371.5,311.5 M359.5,298 L356.5,303" stroke="#444" stroke-width="0.6"/>
 <path d="M330,317.5 C332,314.5 334,312 335.8,311 C338,309.5 340.5,308.5 342.8,308.2 C345,307.8 347.5,307.5 349.3,307.6" stroke="#444" stroke-width="0.6"/>
 <path d="M328,321 C326,324.5 325,329 325.5,334 C326,338 327.5,342 329.5,346.5 C331.7,352 334.5,357.5 336.7,363.3 C338.2,367.5 339.2,372 339.7,377"/>
 <path d="M326,326.5 C328,324 331,323 334,323 C336.5,323 338,323.5 339.2,324.5"/>
 <path d="M355,301.2 C360,303 365,305.5 368.5,307.6 C371.5,309.5 374.5,311.5 374.3,314 L362.5,332 C361.5,333.2 360,333.2 358.5,332.5 L340,325 C338.5,324.3 338,323.5 338.6,322.5 L352.5,302 C353.2,301.2 354,301 355,301.2 Z" fill="#5db0dd" stroke="#2d6f98" stroke-width="0.7"/>
 <path d="M339.5,325 C342,327.5 344.5,330 347.5,331 C351,332 355,332 357.5,332.5"/>
 <path d="M360.5,333 C360,337 360,340 360.2,343.3 C360.5,347 360.8,351 361.3,355 C362,360 363,365 364.2,378"/>
 <path d="M346.2,319 L354.5,319.5 C355.6,323 355.8,327 355.4,331.8 L349,330.8 C347,328 346,324 346.2,319 Z" fill="#fff" stroke="none"/>
 <path d="M346.3,321 C346,324 346.5,327 348.7,330.5 M354.5,321 C355.5,324 355.8,327.5 355.4,331.5"/>
 <path d="M346,318.5 C346.5,315.5 348.5,315 350.5,315 C353,315.2 354.3,317 354.4,319.5 C354.6,322 354,324 352,324.3 C349.5,324.6 347.3,323.5 346.5,322 Z" fill="#fff" stroke="#444" stroke-width="0.6"/>
</g>
<circle cx="362.1" cy="307" r="0.9" fill="#1a3a5a"/>
<clipPath id="p1clip"><rect x="305" y="288.8" width="98" height="90"/></clipPath>
<path clip-path="url(#p1clip)" d="M375.2,287.1 L367.6,294.5 L365.5,292.4 L365.0,302.6 L375.3,302.4 L373.2,300.3 L380.8,292.9 Z" fill="#2f72c2"/>
<line x1="390" y1="366" x2="390" y2="377" stroke="#ddd" stroke-width="0.8"/>
<!-- panel 02 / 03 drawing -->
<g id="p2">
<g fill="none" stroke="#4a4a4a" stroke-width="0.6">
 <path d="M422.7,341.3 C428,336.5 433,331.5 437.5,327 C439.5,325 442,323.5 444.5,324.2 C446.5,325 447.5,327 449.5,327.8 C451.5,328.3 453,328.5 454,330 C455,331.5 454.5,332.5 456.5,333.5 C458.5,335 459,337.5 458.5,340.5"/>
 <path d="M422.7,362.7 C433,360 446,357.5 455,353"/>
 <path d="M449,346 C451,343.5 454,343 456,344"/>
 <path d="M455,350.8 L467.5,337.5 C469,336.8 471,337.5 472,338.3 L479.2,343.3 C480.3,344.3 480.5,345.8 480,346.7 L472.5,355.8 C469,358.5 465,360 462.5,360 C460,360 458,358.8 457,357 C455.5,355 454.8,352.5 455,350.8 Z" fill="#fff" stroke="#555" stroke-width="0.9"/>
 <path d="M458,352.5 L468.5,341 L477,345.8 L466,356.5 Z" stroke="#666"/>
 <path d="M464.6,336.7 C464.5,333.5 465.5,330.5 467.9,328.3 C469.5,328 470.3,329.3 469.8,331 L468,336"/>
 <path d="M469.8,331 C469.5,327.5 470.3,324.5 472,322.9 C473.8,322.3 474.6,323.8 474,326 L471.5,333"/>
 <path d="M474,326 C474,323 474.5,321 475.8,320 C477.5,319.5 478.5,320.8 478,323 L475.5,329"/>
 <path d="M478,323 C478.5,320.5 479.3,318.8 480.8,318.3 C482.5,318 483.5,319.5 482.8,321.5 L479,327"/>
 <path d="M470.4,335.5 L485,323.7"/>
 <path d="M491.7,327.5 C493,326.3 494.3,325.5 495.4,325.8 C496.8,326.5 497.2,328 497,329.2 C496.7,333 496.4,336.5 496.25,340 C495.8,343.5 495.3,347 495,350 C494.6,355 494.3,360 494.2,365"/>
 <path d="M491.7,327.5 C491,330 490.5,333 490,335.8 C489.5,337.8 489,339.5 488.3,340.8 C487.3,342 486.2,342.8 485,343.3 C483.5,344.3 482,345 480.8,345.8"/>
 <path d="M474.2,356.7 C474.6,359.5 474.9,362 475,365"/>
</g>
<path d="M455.4,351.8 L468.6,341.3 C469.5,340.8 470.5,341.5 470.8,342.5 L457.6,353.9 C456.6,354.2 455.5,353.3 455.4,351.8 Z" fill="#5cb4dd" stroke="#2f7aa8" stroke-width="0.5"/>
</g>
<!-- panel 03 -->
<g fill="none" stroke="#4a4a4a" stroke-width="0.6">
 <path d="M324,439 C331,432 337,426 342.5,421.5 C344.5,420 346.5,419.5 348.5,420.5 C350.5,421.5 351.5,422.5 353,423 C355,423.5 356.5,424 357.5,425.5 C358.5,427 358.5,428 360,429 C361.5,430 362.5,432 362.3,434"/>
 <path d="M325.5,459 C335,457 346,454.5 355,452.5"/>
 <path d="M352,446 C354,444 357,443 359,444"/>
 <path d="M357.8,452.5 C356.5,451 356.5,449.5 357.3,448 L369.7,433.2 C371.5,431.8 374,431.8 376.1,432.3 L380.7,436.9 C381.8,438.5 382,440 381.7,441.5 L373.4,451.6 C370.5,454 367,455.5 364.2,455.2 C361.5,455 359.5,454 357.8,452.5 Z" fill="#fff" stroke="#555" stroke-width="0.9"/>
 <path d="M360.5,449.5 L371,436.5 L379,440.5 L369.5,452 Z" stroke="#666"/>
 <path d="M364.5,435 C364,431 364.8,427 366.7,424 C368.3,422.8 369.8,423.8 369.6,425.8 L367.5,433"/>
 <path d="M369.6,425.8 C369.8,422 370.8,419 372.6,417.6 C374.4,417 375.6,418.3 375.2,420.3 L372.5,428"/>
 <path d="M375.2,420.3 C375.6,417.5 376.6,415.3 378.2,414.2 C380,413.8 381,415 380.6,417 L377.5,424"/>
 <path d="M380.6,417 C381.2,414.5 382.3,412.5 383.8,412 C385.6,411.7 386.5,413 385.8,415 L381.5,421.5"/>
 <path d="M370.5,431.5 L388.5,418.5"/>
 <path d="M392.5,420.5 C393.8,419.3 395,418.5 396.2,418.8 C397.6,419.5 398,421 397.8,422.2 C397.5,426 397.2,430 397,434 C396.6,438 396.2,442 396,446 C395.7,451 395.5,456 395.4,461"/>
 <path d="M392.5,420.5 C391.8,423 391.2,426.5 390.7,429.5 C390.2,432 389.5,434 388.5,435.5 C387,437 385.5,438 383.5,439"/>
 <path d="M374.5,454.5 C375,457.5 375.3,460 375.5,463"/>
</g>
<path d="M364.9,448.9 L376.4,435.7 L373.2,432.9 L361.7,446.1 Z" fill="#5cb4dd" stroke="#2a5f85" stroke-width="0.6"/>
<!-- panel 04 -->
<g fill="none" stroke="#333" stroke-width="0.65">
 <path d="M480.8,397.3 L475,404"/>
 <path d="M474.6,403 L491.6,412.3 L488.5,417.5 L471.8,408 Z" fill="#222" stroke="#222" stroke-width="0.8"/>
 <circle cx="477.3" cy="405.6" r="1.5" fill="#fff" stroke="none"/>
 <circle cx="481.5" cy="408" r="1.5" fill="#fff" stroke="none"/>
 <circle cx="485.7" cy="410.3" r="1.5" fill="#fff" stroke="none"/>
 <circle cx="489.2" cy="413" r="1.4" fill="#fff" stroke="none"/>
 <path d="M455.2,414.2 C452,416 450.5,418.5 449.5,421.5 C448.5,425 448.5,429 449.5,433 C451,438 453.5,442 455.2,445.7 C457,450 458,454 458.7,458"/>
 <path d="M455.2,414.2 C457,412.5 459,411.8 461,411.8 C463,411.5 464.5,411.3 466,411.3"/>
 <path d="M449.5,423.5 C451.5,421.5 454,420 456.3,420 C458,420.3 459,421 459.5,422"/>
 <path d="M471.5,406.6 C476,408 484,411.5 489,414.2 C490,415 490,416 489.5,417 L477.3,429.3 C474,429 470,427.5 466,426 L460,423.5 C458.5,422.5 458.5,420.5 459.5,419 L468.5,407.8 C469.3,406.9 470.4,406.5 471.5,406.6 Z" fill="#5db0dd" stroke="#2d6f98" stroke-width="0.7"/>
 <path d="M463.3,425.8 C465,424.8 466.5,424.2 468,424.1 C470,424 471.5,424.3 472.7,424.7 C474,425.5 474.8,426.8 475,428.2"/>
 <path d="M477.3,429.3 C476.3,432 476,435 476.2,438.7 C476.5,442 477,446 477.3,449.2 C478,453 479,456.5 479.7,460"/>
 <ellipse cx="468.6" cy="418.3" rx="2" ry="2.3" fill="#fff" stroke="#444" stroke-width="0.6" transform="rotate(30 468.6 418.3)"/>
</g>
<path d="M475.5,420.2 L479.6,414.1 L481.9,415.7 L480.5,407.5 L472.4,409.2 L474.6,410.8 L470.5,416.8 Z" fill="#2f72c2"/>

<!-- batteries -->
<g fill="#fff" stroke="#222" stroke-width="1.2">
 <rect x="299.8" y="474.8" width="11.8" height="42.5" rx="0.8"/>
 <rect x="326.2" y="474.8" width="11.4" height="42.2" rx="0.8"/>
</g>
<rect x="303.5" y="472.5" width="4.5" height="2.3" fill="#222"/>
<rect x="329.7" y="472.5" width="4.5" height="2.3" fill="#222"/>
<text x="341" y="500.8" font-size="13.5" fill="#1a1a1a" stroke="#1a1a1a" stroke-width="0.25" textLength="165.5" lengthAdjust="spacing">=2 x AAA 1,5V battery incl</text>

<!-- ============ C ============ -->
<rect x="393.5" y="540.6" width="101.6" height="58.8" fill="none" stroke="#888" stroke-width="1.1"/>
<rect x="393.2" y="540.2" width="12.5" height="9.5" fill="#151515"/>
<path d="M402.4,542.4 A3.6,3.6 0 1 0 402.4,547.6" fill="none" stroke="#ccc" stroke-width="0.9"/>
<g transform="translate(349.06,539.03) scale(0.814)"><use href="#breaker"/><use href="#hand"/></g>
<path d="M483.6,573 C486.5,566 485,560.5 481,557" fill="none" stroke="#222" stroke-width="0.8"/>
<path d="M478.3,554 L483.2,557.8 L479.6,560.2 Z" fill="#222"/>
<text x="476" y="586" font-size="8" fill="#3a3a3a" textLength="11" lengthAdjust="spacingAndGlyphs" style="font-family:'Liberation Serif',serif">ON</text>
</svg>
</body></html>
